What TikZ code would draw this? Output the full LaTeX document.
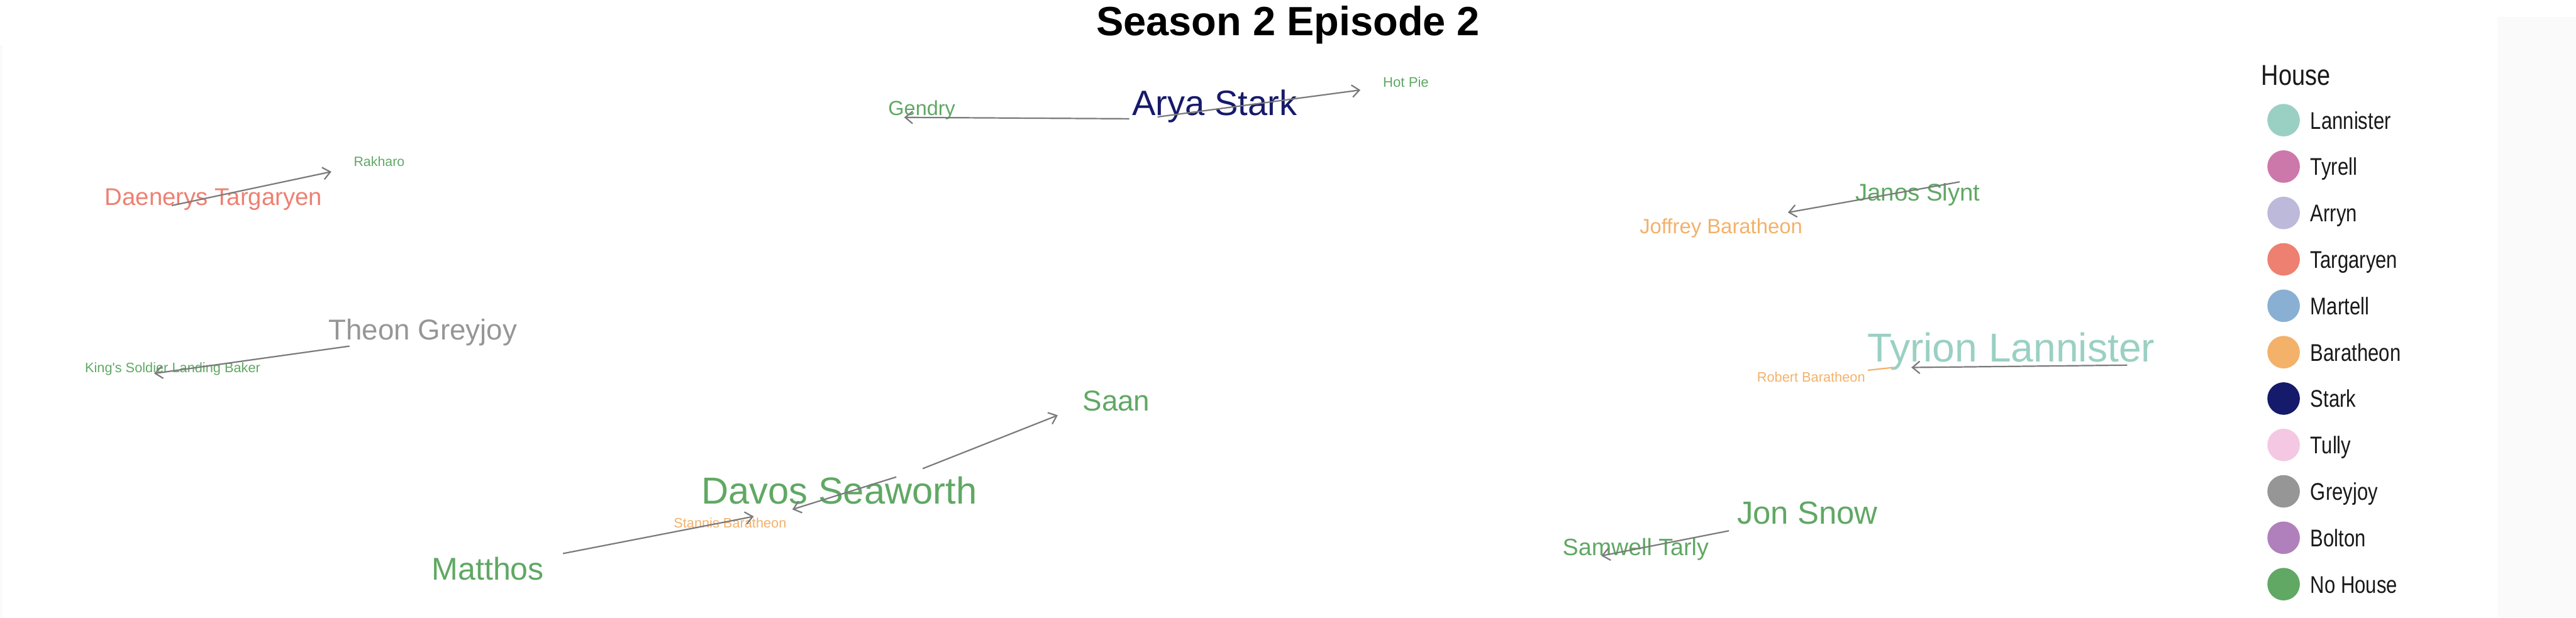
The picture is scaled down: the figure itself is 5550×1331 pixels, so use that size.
\documentclass[tikz,border=0pt]{standalone}
\usepackage{fontspec}
\setmainfont{Liberation Sans}
\usetikzlibrary{arrows.meta}
\newlength\pxu
\setlength\pxu{0.01cm}
\newcommand\pxf[1]{\fontsize{#1\pxu}{#1\pxu}\selectfont}
\definecolor{lann}{HTML}{9AD0C3}
\definecolor{tyre}{HTML}{CD78AA}
\definecolor{arry}{HTML}{BCB9DA}
\definecolor{targ}{HTML}{EE8072}
\definecolor{mart}{HTML}{89B0D3}
\definecolor{bara}{HTML}{F3B16A}
\definecolor{star}{HTML}{161A6B}
\definecolor{tull}{HTML}{F4C8E2}
\definecolor{grey}{HTML}{969696}
\definecolor{bolt}{HTML}{B080BC}
\definecolor{nohs}{HTML}{60A864}
\definecolor{edgegray}{HTML}{7A7A7A}
\definecolor{panel}{HTML}{FAFAFA}
\begin{document}
\begin{tikzpicture}[x=0.01cm,y=-0.01cm,
  lbl/.style={anchor=base,inner sep=0pt,outer sep=0pt},
  edge/.style={draw=edgegray,line width=0.85pt,-{Straight Barb[length=4.5pt,width=7.5pt]}},
  leader/.style={draw=bara,line width=0.85pt},
  legdot/.style={circle,inner sep=0pt,outer sep=0pt,minimum size=0.7cm},
  legtxt/.style={anchor=base west,inner sep=0pt,outer sep=0pt,font={\pxf{52}},text=black!90}]
\useasboundingbox (0,0) rectangle (5550,1331);
% faint panels
\fill[panel] (5380,37) rectangle (5550,1331);
\fill[panel] (0,97) rectangle (6,1331);

% title
\node[lbl,font={\pxf{88}\bfseries}] (title) at (2775,77) {Season 2 Episode 2};

% character labels
\node[lbl,font={\pxf{76}},text=star] (arya) at (2617,248) {Arya Stark};
\node[lbl,font={\pxf{44}},text=nohs] (gendry) at (1986,248) {Gendry};
\node[lbl,font={\pxf{30}},text=nohs] (hotpie) at (3029,187) {Hot Pie};
\node[lbl,font={\pxf{52}},text=targ] (daenerys) at (460,442) {Daenerys Targaryen};
\node[lbl,font={\pxf{29}},text=nohs] (rakharo) at (817,358) {Rakharo};
\node[lbl,font={\pxf{62}},text=grey] (theon) at (911,732) {Theon Greyjoy};
\node[lbl,font={\pxf{29.5}},text=nohs] (baker) at (372,803) {King\textquotesingle s Soldier Landing Baker};
\node[lbl,font={\pxf{62}},text=nohs] (saan) at (2405,886) {Saan};
\node[lbl,font={\pxf{81}},text=nohs] (davos) at (1808,1086) {Davos Seaworth};
\node[lbl,font={\pxf{29.5}},text=bara] (stannis) at (1573,1138) {Stannis Baratheon};
\node[lbl,font={\pxf{68}},text=nohs] (matthos) at (1051,1250) {Matthos};
\node[lbl,font={\pxf{52}},text=nohs] (janos) at (4132,433) {Janos Slynt};
\node[lbl,font={\pxf{44.5}},text=bara] (joffrey) at (3708,504) {Joffrey Baratheon};
\node[lbl,font={\pxf{87}},text=lann] (tyrion) at (4333,780) {Tyrion Lannister};
\node[lbl,font={\pxf{29.5}},text=bara] (robert) at (3902,823) {Robert Baratheon};
\node[lbl,font={\pxf{69}},text=nohs] (jon) at (3894,1130) {Jon Snow};
\node[lbl,font={\pxf{51}},text=nohs] (samwell) at (3524,1197) {Samwell Tarly};

% edge end points
\coordinate (arya-a) at (2433,256);
\coordinate (arya-b) at (2494,252);
\coordinate (gendry-in) at (1948,253);
\coordinate (hotpie-in) at (2931,194);
\coordinate (daenerys-out) at (370,443);
\coordinate (rakharo-in) at (714,370);
\coordinate (theon-out) at (753,746);
\coordinate (baker-in) at (332,805);
\coordinate (davos-a) at (1988,1010);
\coordinate (saan-in) at (2279,895);
\coordinate (davos-b) at (1931,1028);
\coordinate (stannis-in) at (1707,1098);
\coordinate (matthos-out) at (1213,1193);
\coordinate (stannis-in2) at (1624,1113);
\coordinate (janos-out) at (4222,392);
\coordinate (joffrey-in) at (3852,458);
\coordinate (tyrion-out) at (4583,787);
\coordinate (robert-in) at (4118,792);
\coordinate (robert-pt) at (4079,792);
\coordinate (robert-lbl) at (4024,798);
\coordinate (jon-out) at (3725,1144);
\coordinate (samwell-in) at (3450,1198);

% connectors
\draw[edge] (arya-a) -- (gendry-in);
\draw[edge] (arya-b) -- (hotpie-in);
\draw[edge] (daenerys-out) -- (rakharo-in);
\draw[edge] (theon-out) -- (baker-in);
\draw[edge] (davos-a) -- (saan-in);
\draw[edge] (davos-b) -- (stannis-in);
\draw[edge] (matthos-out) -- (stannis-in2);
\draw[edge] (janos-out) -- (joffrey-in);
\draw[edge] (tyrion-out) -- (robert-in);
\draw[edge] (jon-out) -- (samwell-in);
\draw[leader] (robert-lbl) -- (robert-pt);

% legend
\node[anchor=base west,inner sep=0pt,outer sep=0pt,font={\pxf{62}},text=black!90] (legtitle) at (4872,183) {\scalebox{0.83}[1]{House}};
\foreach \c/\t [count=\i from 0] in {lann/Lannister,tyre/Tyrell,arry/Arryn,targ/Targaryen,mart/Martell,bara/Baratheon,star/Stark,tull/Tully,grey/Greyjoy,bolt/Bolton,nohs/No House}{
  \node[legdot,fill=\c] (dot\i) at (4920,259+100*\i) {};
  \node[legtxt] (leg\i) at (4978,278+100*\i) {\scalebox{0.81}[1]{\t}};
}
\end{tikzpicture}
\end{document}
